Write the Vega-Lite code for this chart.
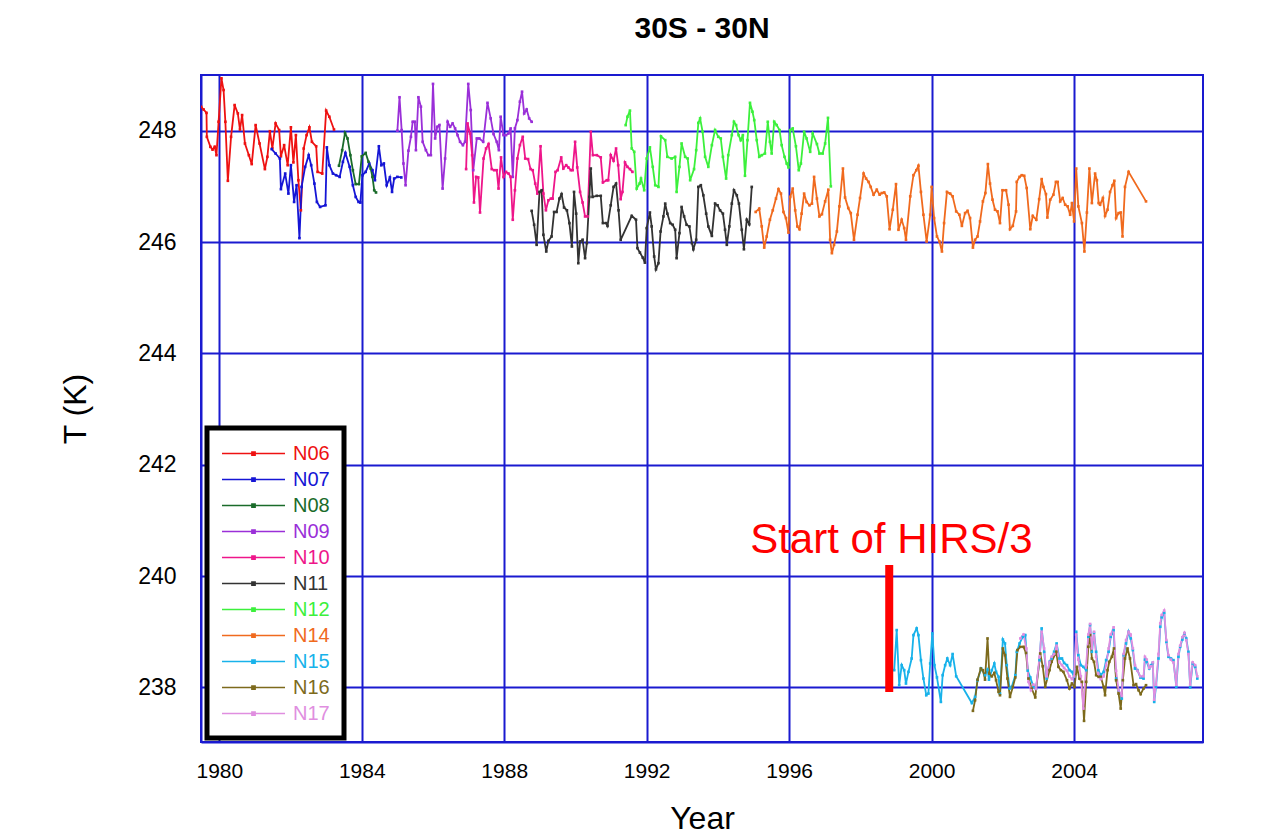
{
  "$schema": "https://vega.github.io/schema/vega-lite/v6.json",
  "width": 1002,
  "height": 667,
  "autosize": {"type": "none"},
  "padding": {"left": 201, "top": 75, "right": 71, "bottom": 94},
  "background": "#ffffff",
  "config": {
    "font": "Liberation Sans",
    "view": {"stroke": "#1a1ad0", "strokeWidth": 2},
    "axis": {"grid": true, "gridColor": "#1a1ad0", "gridWidth": 2, "gridOpacity": 1, "domainColor": "#1a1ad0", "domainWidth": 2, "ticks": false, "labelColor": "#000000", "titleColor": "#000000", "titleFontWeight": "normal", "labelFont": "Liberation Sans", "titleFont": "Liberation Sans"}
  },
  "title": {"text": "30S - 30N", "fontSize": 30, "fontWeight": "bold", "font": "Liberation Sans", "color": "#000000", "offset": 31, "anchor": "middle"},
  "datasets": {
    "ann": [{"t": 1998.81, "y1": 237.92, "y2": 240.2, "tt": 1998.87, "ty": 240.41, "label": "Start of HIRS/3"}]
  },
  "data": {"values": [
    {"s":"N06","t":1979.49,"v":248.43},{"s":"N06","t":1979.56,"v":248.38},{"s":"N06","t":1979.64,"v":248.32},{"s":"N06","t":1979.65,"v":247.89},{"s":"N06","t":1979.75,"v":247.71},{"s":"N06","t":1979.81,"v":247.66},{"s":"N06","t":1979.87,"v":247.71},{"s":"N06","t":1979.92,"v":247.56},{"s":"N06","t":1979.98,"v":248.16},{"s":"N06","t":1980.06,"v":248.94},{"s":"N06","t":1980.12,"v":248.73},{"s":"N06","t":1980.17,"v":248.16},{"s":"N06","t":1980.24,"v":247.10},{"s":"N06","t":1980.33,"v":247.89},{"s":"N06","t":1980.43,"v":248.46},{"s":"N06","t":1980.52,"v":248.31},{"s":"N06","t":1980.58,"v":248.02},{"s":"N06","t":1980.64,"v":248.28},{"s":"N06","t":1980.72,"v":247.77},{"s":"N06","t":1980.83,"v":247.56},{"s":"N06","t":1980.91,"v":247.40},{"s":"N06","t":1981.02,"v":248.10},{"s":"N06","t":1981.13,"v":247.77},{"s":"N06","t":1981.28,"v":247.31},{"s":"N06","t":1981.35,"v":247.53},{"s":"N06","t":1981.42,"v":247.99},{"s":"N06","t":1981.49,"v":247.68},{"s":"N06","t":1981.58,"v":248.13},{"s":"N06","t":1981.68,"v":248.01},{"s":"N06","t":1981.73,"v":247.54},{"s":"N06","t":1981.82,"v":247.74},{"s":"N06","t":1981.92,"v":247.38},{"s":"N06","t":1982.01,"v":248.06},{"s":"N06","t":1982.08,"v":247.43},{"s":"N06","t":1982.15,"v":247.92},{"s":"N06","t":1982.22,"v":247.11},{"s":"N06","t":1982.29,"v":246.57},{"s":"N06","t":1982.37,"v":247.68},{"s":"N06","t":1982.45,"v":247.92},{"s":"N06","t":1982.53,"v":248.06},{"s":"N06","t":1982.60,"v":247.80},{"s":"N06","t":1982.72,"v":247.72},{"s":"N06","t":1982.76,"v":247.26},{"s":"N06","t":1982.89,"v":247.23},{"s":"N06","t":1983.00,"v":248.36},{"s":"N06","t":1983.09,"v":248.25},{"s":"N06","t":1983.22,"v":248.02},
    {"s":"N07","t":1981.47,"v":247.67},{"s":"N07","t":1981.58,"v":247.59},{"s":"N07","t":1981.70,"v":247.50},{"s":"N07","t":1981.73,"v":246.95},{"s":"N07","t":1981.85,"v":247.23},{"s":"N07","t":1981.94,"v":246.87},{"s":"N07","t":1982.01,"v":247.38},{"s":"N07","t":1982.10,"v":246.72},{"s":"N07","t":1982.17,"v":247.02},{"s":"N07","t":1982.25,"v":246.07},{"s":"N07","t":1982.31,"v":246.99},{"s":"N07","t":1982.41,"v":247.35},{"s":"N07","t":1982.51,"v":247.56},{"s":"N07","t":1982.58,"v":247.38},{"s":"N07","t":1982.67,"v":247.05},{"s":"N07","t":1982.74,"v":246.72},{"s":"N07","t":1982.83,"v":246.63},{"s":"N07","t":1982.98,"v":246.66},{"s":"N07","t":1983.02,"v":247.70},{"s":"N07","t":1983.09,"v":247.38},{"s":"N07","t":1983.19,"v":247.23},{"s":"N07","t":1983.28,"v":247.20},{"s":"N07","t":1983.38,"v":247.17},{"s":"N07","t":1983.47,"v":247.44},{"s":"N07","t":1983.54,"v":247.60},{"s":"N07","t":1983.66,"v":247.35},{"s":"N07","t":1983.75,"v":247.02},{"s":"N07","t":1983.83,"v":246.81},{"s":"N07","t":1983.91,"v":246.72},{"s":"N07","t":1983.96,"v":246.71},{"s":"N07","t":1984.02,"v":247.20},{"s":"N07","t":1984.11,"v":247.26},{"s":"N07","t":1984.21,"v":247.41},{"s":"N07","t":1984.30,"v":247.29},{"s":"N07","t":1984.37,"v":247.11},{"s":"N07","t":1984.48,"v":247.72},{"s":"N07","t":1984.55,"v":247.38},{"s":"N07","t":1984.62,"v":247.41},{"s":"N07","t":1984.70,"v":247.02},{"s":"N07","t":1984.79,"v":247.16},{"s":"N07","t":1984.85,"v":246.90},{"s":"N07","t":1984.91,"v":247.14},{"s":"N07","t":1985.00,"v":247.17},{"s":"N07","t":1985.11,"v":247.16},
    {"s":"N08","t":1983.36,"v":247.37},{"s":"N08","t":1983.45,"v":247.65},{"s":"N08","t":1983.53,"v":247.96},{"s":"N08","t":1983.60,"v":247.86},{"s":"N08","t":1983.68,"v":247.56},{"s":"N08","t":1983.75,"v":247.29},{"s":"N08","t":1983.83,"v":247.04},{"s":"N08","t":1983.92,"v":247.04},{"s":"N08","t":1984.00,"v":247.54},{"s":"N08","t":1984.11,"v":247.60},{"s":"N08","t":1984.19,"v":247.44},{"s":"N08","t":1984.25,"v":247.32},{"s":"N08","t":1984.30,"v":247.17},{"s":"N08","t":1984.35,"v":246.93},{"s":"N08","t":1984.40,"v":246.89},
    {"s":"N09","t":1985.00,"v":248.00},{"s":"N09","t":1985.06,"v":248.60},{"s":"N09","t":1985.12,"v":248.01},{"s":"N09","t":1985.17,"v":247.41},{"s":"N09","t":1985.23,"v":247.02},{"s":"N09","t":1985.31,"v":247.64},{"s":"N09","t":1985.38,"v":247.89},{"s":"N09","t":1985.43,"v":248.16},{"s":"N09","t":1985.49,"v":248.16},{"s":"N09","t":1985.52,"v":247.65},{"s":"N09","t":1985.59,"v":248.60},{"s":"N09","t":1985.66,"v":248.43},{"s":"N09","t":1985.71,"v":247.80},{"s":"N09","t":1985.80,"v":247.65},{"s":"N09","t":1985.87,"v":247.56},{"s":"N09","t":1985.94,"v":247.56},{"s":"N09","t":1986.00,"v":248.84},{"s":"N09","t":1986.06,"v":247.86},{"s":"N09","t":1986.12,"v":248.07},{"s":"N09","t":1986.18,"v":248.10},{"s":"N09","t":1986.27,"v":246.96},{"s":"N09","t":1986.34,"v":247.50},{"s":"N09","t":1986.41,"v":248.16},{"s":"N09","t":1986.48,"v":248.07},{"s":"N09","t":1986.55,"v":248.13},{"s":"N09","t":1986.62,"v":248.04},{"s":"N09","t":1986.69,"v":247.92},{"s":"N09","t":1986.76,"v":247.80},{"s":"N09","t":1986.84,"v":247.74},{"s":"N09","t":1986.90,"v":247.80},{"s":"N09","t":1986.99,"v":248.84},{"s":"N09","t":1987.06,"v":248.37},{"s":"N09","t":1987.13,"v":247.29},{"s":"N09","t":1987.23,"v":247.86},{"s":"N09","t":1987.30,"v":247.86},{"s":"N09","t":1987.41,"v":247.80},{"s":"N09","t":1987.53,"v":248.50},{"s":"N09","t":1987.62,"v":248.22},{"s":"N09","t":1987.70,"v":247.94},{"s":"N09","t":1987.79,"v":247.80},{"s":"N09","t":1987.85,"v":247.65},{"s":"N09","t":1987.90,"v":248.25},{"s":"N09","t":1987.98,"v":247.92},{"s":"N09","t":1988.05,"v":247.92},{"s":"N09","t":1988.12,"v":247.95},{"s":"N09","t":1988.18,"v":248.04},{"s":"N09","t":1988.24,"v":247.17},{"s":"N09","t":1988.30,"v":248.04},{"s":"N09","t":1988.37,"v":248.19},{"s":"N09","t":1988.44,"v":248.52},{"s":"N09","t":1988.50,"v":248.70},{"s":"N09","t":1988.56,"v":248.31},{"s":"N09","t":1988.63,"v":248.38},{"s":"N09","t":1988.70,"v":248.22},{"s":"N09","t":1988.77,"v":248.16},
    {"s":"N10","t":1986.93,"v":247.31},{"s":"N10","t":1986.97,"v":248.13},{"s":"N10","t":1987.04,"v":247.95},{"s":"N10","t":1987.10,"v":247.56},{"s":"N10","t":1987.15,"v":246.71},{"s":"N10","t":1987.21,"v":247.17},{"s":"N10","t":1987.27,"v":247.16},{"s":"N10","t":1987.32,"v":246.53},{"s":"N10","t":1987.42,"v":247.50},{"s":"N10","t":1987.49,"v":247.68},{"s":"N10","t":1987.56,"v":247.76},{"s":"N10","t":1987.65,"v":247.31},{"s":"N10","t":1987.72,"v":247.29},{"s":"N10","t":1987.79,"v":247.29},{"s":"N10","t":1987.84,"v":246.96},{"s":"N10","t":1987.91,"v":247.52},{"s":"N10","t":1987.98,"v":247.17},{"s":"N10","t":1988.05,"v":247.26},{"s":"N10","t":1988.12,"v":247.23},{"s":"N10","t":1988.18,"v":247.17},{"s":"N10","t":1988.24,"v":246.40},{"s":"N10","t":1988.30,"v":246.93},{"s":"N10","t":1988.37,"v":247.50},{"s":"N10","t":1988.44,"v":247.74},{"s":"N10","t":1988.52,"v":247.89},{"s":"N10","t":1988.59,"v":247.50},{"s":"N10","t":1988.67,"v":247.49},{"s":"N10","t":1988.74,"v":247.31},{"s":"N10","t":1988.80,"v":247.29},{"s":"N10","t":1988.87,"v":247.05},{"s":"N10","t":1988.93,"v":246.87},{"s":"N10","t":1989.02,"v":247.72},{"s":"N10","t":1989.10,"v":246.87},{"s":"N10","t":1989.17,"v":246.57},{"s":"N10","t":1989.24,"v":246.75},{"s":"N10","t":1989.31,"v":246.78},{"s":"N10","t":1989.36,"v":246.78},{"s":"N10","t":1989.44,"v":247.26},{"s":"N10","t":1989.50,"v":247.29},{"s":"N10","t":1989.60,"v":247.52},{"s":"N10","t":1989.66,"v":247.32},{"s":"N10","t":1989.74,"v":247.38},{"s":"N10","t":1989.80,"v":247.34},{"s":"N10","t":1989.87,"v":247.29},{"s":"N10","t":1989.92,"v":247.29},{"s":"N10","t":1989.99,"v":247.80},{"s":"N10","t":1990.05,"v":247.34},{"s":"N10","t":1990.13,"v":246.90},{"s":"N10","t":1990.20,"v":246.71},{"s":"N10","t":1990.27,"v":246.46},{"s":"N10","t":1990.34,"v":246.46},{"s":"N10","t":1990.43,"v":247.98},{"s":"N10","t":1990.49,"v":247.56},{"s":"N10","t":1990.60,"v":247.56},{"s":"N10","t":1990.71,"v":247.52},{"s":"N10","t":1990.77,"v":247.07},{"s":"N10","t":1990.88,"v":247.11},{"s":"N10","t":1990.92,"v":247.11},{"s":"N10","t":1990.99,"v":247.56},{"s":"N10","t":1991.07,"v":247.46},{"s":"N10","t":1991.14,"v":247.68},{"s":"N10","t":1991.20,"v":247.38},{"s":"N10","t":1991.27,"v":246.77},{"s":"N10","t":1991.32,"v":246.90},{"s":"N10","t":1991.39,"v":247.43},{"s":"N10","t":1991.46,"v":247.35},{"s":"N10","t":1991.53,"v":247.31},{"s":"N10","t":1991.60,"v":247.26},
    {"s":"N11","t":1988.77,"v":246.56},{"s":"N11","t":1988.84,"v":246.31},{"s":"N11","t":1988.91,"v":245.95},{"s":"N11","t":1988.99,"v":246.90},{"s":"N11","t":1989.05,"v":246.93},{"s":"N11","t":1989.10,"v":246.13},{"s":"N11","t":1989.18,"v":245.83},{"s":"N11","t":1989.24,"v":246.02},{"s":"N11","t":1989.33,"v":246.10},{"s":"N11","t":1989.40,"v":246.54},{"s":"N11","t":1989.47,"v":246.54},{"s":"N11","t":1989.55,"v":246.78},{"s":"N11","t":1989.61,"v":246.86},{"s":"N11","t":1989.68,"v":246.62},{"s":"N11","t":1989.76,"v":246.57},{"s":"N11","t":1989.83,"v":246.34},{"s":"N11","t":1989.90,"v":245.92},{"s":"N11","t":1989.96,"v":246.90},{"s":"N11","t":1990.02,"v":246.51},{"s":"N11","t":1990.08,"v":245.62},{"s":"N11","t":1990.13,"v":246.01},{"s":"N11","t":1990.20,"v":246.04},{"s":"N11","t":1990.27,"v":245.71},{"s":"N11","t":1990.32,"v":245.98},{"s":"N11","t":1990.39,"v":246.81},{"s":"N11","t":1990.43,"v":247.32},{"s":"N11","t":1990.48,"v":246.81},{"s":"N11","t":1990.60,"v":246.83},{"s":"N11","t":1990.71,"v":246.83},{"s":"N11","t":1990.77,"v":246.34},{"s":"N11","t":1990.86,"v":246.34},{"s":"N11","t":1990.90,"v":246.29},{"s":"N11","t":1990.99,"v":246.66},{"s":"N11","t":1991.07,"v":246.99},{"s":"N11","t":1991.14,"v":247.05},{"s":"N11","t":1991.21,"v":246.57},{"s":"N11","t":1991.27,"v":246.04},{"s":"N11","t":1991.58,"v":246.47},{"s":"N11","t":1991.70,"v":246.40},{"s":"N11","t":1991.74,"v":245.89},{"s":"N11","t":1991.81,"v":245.81},{"s":"N11","t":1991.89,"v":245.72},{"s":"N11","t":1991.95,"v":245.63},{"s":"N11","t":1992.00,"v":246.25},{"s":"N11","t":1992.09,"v":246.53},{"s":"N11","t":1992.14,"v":246.28},{"s":"N11","t":1992.21,"v":245.74},{"s":"N11","t":1992.26,"v":245.51},{"s":"N11","t":1992.33,"v":245.62},{"s":"N11","t":1992.39,"v":246.19},{"s":"N11","t":1992.47,"v":246.46},{"s":"N11","t":1992.52,"v":246.69},{"s":"N11","t":1992.58,"v":246.51},{"s":"N11","t":1992.66,"v":246.34},{"s":"N11","t":1992.73,"v":246.31},{"s":"N11","t":1992.80,"v":246.22},{"s":"N11","t":1992.84,"v":245.71},{"s":"N11","t":1992.92,"v":246.16},{"s":"N11","t":1992.98,"v":246.63},{"s":"N11","t":1993.05,"v":246.46},{"s":"N11","t":1993.12,"v":246.31},{"s":"N11","t":1993.20,"v":246.28},{"s":"N11","t":1993.27,"v":245.98},{"s":"N11","t":1993.31,"v":245.87},{"s":"N11","t":1993.39,"v":246.04},{"s":"N11","t":1993.45,"v":246.99},{"s":"N11","t":1993.52,"v":247.02},{"s":"N11","t":1993.59,"v":246.84},{"s":"N11","t":1993.67,"v":246.51},{"s":"N11","t":1993.73,"v":246.28},{"s":"N11","t":1993.83,"v":246.11},{"s":"N11","t":1993.92,"v":246.69},{"s":"N11","t":1993.99,"v":246.66},{"s":"N11","t":1994.06,"v":246.57},{"s":"N11","t":1994.14,"v":246.51},{"s":"N11","t":1994.20,"v":246.22},{"s":"N11","t":1994.25,"v":245.95},{"s":"N11","t":1994.32,"v":246.28},{"s":"N11","t":1994.39,"v":246.69},{"s":"N11","t":1994.45,"v":246.93},{"s":"N11","t":1994.53,"v":246.84},{"s":"N11","t":1994.59,"v":246.69},{"s":"N11","t":1994.67,"v":246.22},{"s":"N11","t":1994.73,"v":245.87},{"s":"N11","t":1994.81,"v":246.40},{"s":"N11","t":1994.88,"v":246.32},{"s":"N11","t":1994.95,"v":246.99},
    {"s":"N12","t":1991.41,"v":248.10},{"s":"N12","t":1991.46,"v":248.25},{"s":"N12","t":1991.53,"v":248.36},{"s":"N12","t":1991.58,"v":247.68},{"s":"N12","t":1991.65,"v":247.62},{"s":"N12","t":1991.72,"v":246.96},{"s":"N12","t":1991.80,"v":247.05},{"s":"N12","t":1991.84,"v":247.14},{"s":"N12","t":1991.93,"v":246.93},{"s":"N12","t":1992.00,"v":247.50},{"s":"N12","t":1992.09,"v":247.70},{"s":"N12","t":1992.17,"v":247.35},{"s":"N12","t":1992.24,"v":247.02},{"s":"N12","t":1992.33,"v":246.99},{"s":"N12","t":1992.40,"v":247.90},{"s":"N12","t":1992.52,"v":247.83},{"s":"N12","t":1992.58,"v":247.53},{"s":"N12","t":1992.70,"v":247.50},{"s":"N12","t":1992.80,"v":247.53},{"s":"N12","t":1992.84,"v":246.90},{"s":"N12","t":1992.92,"v":247.35},{"s":"N12","t":1992.98,"v":247.77},{"s":"N12","t":1993.08,"v":247.53},{"s":"N12","t":1993.15,"v":247.50},{"s":"N12","t":1993.22,"v":247.11},{"s":"N12","t":1993.33,"v":247.31},{"s":"N12","t":1993.39,"v":247.65},{"s":"N12","t":1993.45,"v":248.14},{"s":"N12","t":1993.50,"v":248.22},{"s":"N12","t":1993.57,"v":247.98},{"s":"N12","t":1993.64,"v":247.53},{"s":"N12","t":1993.73,"v":247.35},{"s":"N12","t":1993.83,"v":247.74},{"s":"N12","t":1993.92,"v":248.01},{"s":"N12","t":1994.01,"v":247.89},{"s":"N12","t":1994.08,"v":247.86},{"s":"N12","t":1994.14,"v":247.53},{"s":"N12","t":1994.23,"v":247.14},{"s":"N12","t":1994.29,"v":247.56},{"s":"N12","t":1994.39,"v":247.92},{"s":"N12","t":1994.45,"v":248.16},{"s":"N12","t":1994.51,"v":248.10},{"s":"N12","t":1994.58,"v":247.92},{"s":"N12","t":1994.64,"v":247.83},{"s":"N12","t":1994.70,"v":247.92},{"s":"N12","t":1994.76,"v":247.19},{"s":"N12","t":1994.83,"v":247.83},{"s":"N12","t":1994.90,"v":248.50},{"s":"N12","t":1994.97,"v":248.34},{"s":"N12","t":1995.02,"v":248.19},{"s":"N12","t":1995.09,"v":247.83},{"s":"N12","t":1995.16,"v":247.53},{"s":"N12","t":1995.23,"v":247.56},{"s":"N12","t":1995.32,"v":247.59},{"s":"N12","t":1995.40,"v":248.16},{"s":"N12","t":1995.46,"v":247.80},{"s":"N12","t":1995.51,"v":247.59},{"s":"N12","t":1995.58,"v":248.16},{"s":"N12","t":1995.65,"v":248.10},{"s":"N12","t":1995.73,"v":248.01},{"s":"N12","t":1995.79,"v":247.74},{"s":"N12","t":1995.87,"v":247.53},{"s":"N12","t":1995.93,"v":247.41},{"s":"N12","t":1995.98,"v":247.34},{"s":"N12","t":1996.03,"v":248.01},{"s":"N12","t":1996.10,"v":248.04},{"s":"N12","t":1996.19,"v":247.72},{"s":"N12","t":1996.27,"v":247.29},{"s":"N12","t":1996.33,"v":247.41},{"s":"N12","t":1996.42,"v":247.98},{"s":"N12","t":1996.49,"v":247.86},{"s":"N12","t":1996.59,"v":247.62},{"s":"N12","t":1996.66,"v":247.95},{"s":"N12","t":1996.78,"v":247.76},{"s":"N12","t":1996.85,"v":247.59},{"s":"N12","t":1996.94,"v":247.59},{"s":"N12","t":1997.01,"v":247.77},{"s":"N12","t":1997.09,"v":248.23},{"s":"N12","t":1997.17,"v":247.00},
    {"s":"N14","t":1995.06,"v":246.54},{"s":"N14","t":1995.16,"v":246.60},{"s":"N14","t":1995.23,"v":246.28},{"s":"N14","t":1995.30,"v":245.90},{"s":"N14","t":1995.37,"v":246.10},{"s":"N14","t":1995.46,"v":246.40},{"s":"N14","t":1995.54,"v":246.57},{"s":"N14","t":1995.63,"v":246.78},{"s":"N14","t":1995.70,"v":246.95},{"s":"N14","t":1995.77,"v":246.87},{"s":"N14","t":1995.84,"v":246.54},{"s":"N14","t":1995.91,"v":246.43},{"s":"N14","t":1995.98,"v":246.17},{"s":"N14","t":1996.03,"v":246.81},{"s":"N14","t":1996.10,"v":246.96},{"s":"N14","t":1996.17,"v":246.57},{"s":"N14","t":1996.23,"v":246.28},{"s":"N14","t":1996.29,"v":246.23},{"s":"N14","t":1996.35,"v":246.51},{"s":"N14","t":1996.42,"v":246.87},{"s":"N14","t":1996.49,"v":246.72},{"s":"N14","t":1996.57,"v":246.66},{"s":"N14","t":1996.64,"v":246.69},{"s":"N14","t":1996.70,"v":247.17},{"s":"N14","t":1996.78,"v":246.78},{"s":"N14","t":1996.85,"v":246.46},{"s":"N14","t":1996.92,"v":246.50},{"s":"N14","t":1997.01,"v":246.73},{"s":"N14","t":1997.10,"v":246.94},{"s":"N14","t":1997.15,"v":246.04},{"s":"N14","t":1997.20,"v":245.80},{"s":"N14","t":1997.26,"v":245.95},{"s":"N14","t":1997.34,"v":246.19},{"s":"N14","t":1997.41,"v":246.64},{"s":"N14","t":1997.51,"v":247.32},{"s":"N14","t":1997.57,"v":246.80},{"s":"N14","t":1997.66,"v":246.61},{"s":"N14","t":1997.73,"v":246.52},{"s":"N14","t":1997.82,"v":246.04},{"s":"N14","t":1997.92,"v":246.49},{"s":"N14","t":1997.99,"v":246.79},{"s":"N14","t":1998.09,"v":247.23},{"s":"N14","t":1998.16,"v":247.14},{"s":"N14","t":1998.23,"v":247.08},{"s":"N14","t":1998.29,"v":246.99},{"s":"N14","t":1998.37,"v":246.85},{"s":"N14","t":1998.46,"v":246.94},{"s":"N14","t":1998.54,"v":246.85},{"s":"N14","t":1998.60,"v":246.88},{"s":"N14","t":1998.67,"v":246.89},{"s":"N14","t":1998.74,"v":246.82},{"s":"N14","t":1998.82,"v":246.23},{"s":"N14","t":1998.91,"v":246.58},{"s":"N14","t":1999.00,"v":247.04},{"s":"N14","t":1999.07,"v":246.22},{"s":"N14","t":1999.16,"v":246.40},{"s":"N14","t":1999.23,"v":246.25},{"s":"N14","t":1999.28,"v":246.04},{"s":"N14","t":1999.40,"v":246.82},{"s":"N14","t":1999.49,"v":247.20},{"s":"N14","t":1999.57,"v":247.29},{"s":"N14","t":1999.63,"v":247.37},{"s":"N14","t":1999.70,"v":246.90},{"s":"N14","t":1999.77,"v":246.49},{"s":"N14","t":1999.86,"v":246.01},{"s":"N14","t":1999.96,"v":246.49},{"s":"N14","t":2000.00,"v":246.99},{"s":"N14","t":2000.07,"v":246.43},{"s":"N14","t":2000.15,"v":246.10},{"s":"N14","t":2000.22,"v":246.01},{"s":"N14","t":2000.29,"v":245.83},{"s":"N14","t":2000.35,"v":246.34},{"s":"N14","t":2000.43,"v":246.90},{"s":"N14","t":2000.52,"v":246.87},{"s":"N14","t":2000.59,"v":246.82},{"s":"N14","t":2000.69,"v":246.55},{"s":"N14","t":2000.78,"v":246.49},{"s":"N14","t":2000.85,"v":246.29},{"s":"N14","t":2000.94,"v":246.52},{"s":"N14","t":2001.01,"v":246.56},{"s":"N14","t":2001.08,"v":246.43},{"s":"N14","t":2001.16,"v":245.90},{"s":"N14","t":2001.22,"v":246.04},{"s":"N14","t":2001.29,"v":246.10},{"s":"N14","t":2001.36,"v":246.37},{"s":"N14","t":2001.44,"v":246.73},{"s":"N14","t":2001.51,"v":246.88},{"s":"N14","t":2001.58,"v":247.40},{"s":"N14","t":2001.64,"v":247.05},{"s":"N14","t":2001.71,"v":246.76},{"s":"N14","t":2001.78,"v":246.58},{"s":"N14","t":2001.85,"v":246.55},{"s":"N14","t":2001.92,"v":246.34},{"s":"N14","t":2001.99,"v":246.93},{"s":"N14","t":2002.09,"v":246.93},{"s":"N14","t":2002.16,"v":246.67},{"s":"N14","t":2002.20,"v":246.23},{"s":"N14","t":2002.28,"v":246.29},{"s":"N14","t":2002.37,"v":246.55},{"s":"N14","t":2002.39,"v":247.08},{"s":"N14","t":2002.47,"v":247.17},{"s":"N14","t":2002.53,"v":247.20},{"s":"N14","t":2002.60,"v":247.19},{"s":"N14","t":2002.67,"v":246.97},{"s":"N14","t":2002.77,"v":246.23},{"s":"N14","t":2002.84,"v":246.47},{"s":"N14","t":2002.94,"v":246.40},{"s":"N14","t":2003.02,"v":246.77},{"s":"N14","t":2003.09,"v":247.13},{"s":"N14","t":2003.14,"v":246.99},{"s":"N14","t":2003.21,"v":246.86},{"s":"N14","t":2003.25,"v":246.44},{"s":"N14","t":2003.33,"v":246.76},{"s":"N14","t":2003.42,"v":246.85},{"s":"N14","t":2003.49,"v":247.08},{"s":"N14","t":2003.54,"v":247.08},{"s":"N14","t":2003.61,"v":246.73},{"s":"N14","t":2003.68,"v":246.79},{"s":"N14","t":2003.75,"v":246.67},{"s":"N14","t":2003.82,"v":246.64},{"s":"N14","t":2003.89,"v":246.49},{"s":"N14","t":2003.94,"v":246.70},{"s":"N14","t":2004.00,"v":246.37},{"s":"N14","t":2004.06,"v":247.32},{"s":"N14","t":2004.12,"v":246.64},{"s":"N14","t":2004.22,"v":246.34},{"s":"N14","t":2004.29,"v":245.83},{"s":"N14","t":2004.36,"v":246.53},{"s":"N14","t":2004.43,"v":247.32},{"s":"N14","t":2004.50,"v":246.70},{"s":"N14","t":2004.59,"v":247.23},{"s":"N14","t":2004.64,"v":247.11},{"s":"N14","t":2004.69,"v":246.70},{"s":"N14","t":2004.73,"v":246.67},{"s":"N14","t":2004.81,"v":246.79},{"s":"N14","t":2004.87,"v":246.47},{"s":"N14","t":2004.94,"v":246.58},{"s":"N14","t":2005.01,"v":246.90},{"s":"N14","t":2005.08,"v":247.02},{"s":"N14","t":2005.13,"v":247.10},{"s":"N14","t":2005.18,"v":246.43},{"s":"N14","t":2005.25,"v":246.52},{"s":"N14","t":2005.31,"v":246.53},{"s":"N14","t":2005.36,"v":246.10},{"s":"N14","t":2005.43,"v":246.99},{"s":"N14","t":2005.53,"v":247.26},{"s":"N14","t":2006.02,"v":246.73},
    {"s":"N15","t":1998.95,"v":238.31},{"s":"N15","t":1999.02,"v":239.03},{"s":"N15","t":1999.09,"v":238.04},{"s":"N15","t":1999.16,"v":238.40},{"s":"N15","t":1999.23,"v":238.31},{"s":"N15","t":1999.28,"v":238.07},{"s":"N15","t":1999.35,"v":238.28},{"s":"N15","t":1999.44,"v":238.52},{"s":"N15","t":1999.49,"v":238.94},{"s":"N15","t":1999.58,"v":239.06},{"s":"N15","t":1999.63,"v":238.94},{"s":"N15","t":1999.70,"v":238.49},{"s":"N15","t":1999.77,"v":238.16},{"s":"N15","t":1999.85,"v":237.86},{"s":"N15","t":1999.91,"v":237.89},{"s":"N15","t":1999.96,"v":238.43},{"s":"N15","t":2000.02,"v":238.97},{"s":"N15","t":2000.08,"v":238.40},{"s":"N15","t":2000.15,"v":238.18},{"s":"N15","t":2000.26,"v":237.74},{"s":"N15","t":2000.31,"v":238.22},{"s":"N15","t":2000.38,"v":238.40},{"s":"N15","t":2000.44,"v":238.52},{"s":"N15","t":2000.52,"v":238.40},{"s":"N15","t":2000.59,"v":238.60},{"s":"N15","t":2000.69,"v":238.20},{"s":"N15","t":2001.13,"v":237.72},{"s":"N15","t":2001.22,"v":237.83},{"s":"N15","t":2001.29,"v":238.13},{"s":"N15","t":2001.39,"v":238.34},{"s":"N15","t":2001.50,"v":238.22},{"s":"N15","t":2001.57,"v":238.32},{"s":"N15","t":2001.61,"v":238.14},{"s":"N15","t":2001.69,"v":238.31},{"s":"N15","t":2001.76,"v":238.43},{"s":"N15","t":2001.81,"v":238.28},{"s":"N15","t":2001.88,"v":238.19},{"s":"N15","t":2001.92,"v":237.89},{"s":"N15","t":2002.00,"v":238.86},{"s":"N15","t":2002.06,"v":238.79},{"s":"N15","t":2002.11,"v":238.40},{"s":"N15","t":2002.19,"v":237.98},{"s":"N15","t":2002.25,"v":238.01},{"s":"N15","t":2002.35,"v":238.22},{"s":"N15","t":2002.39,"v":238.64},{"s":"N15","t":2002.47,"v":238.79},{"s":"N15","t":2002.56,"v":238.91},{"s":"N15","t":2002.63,"v":238.94},{"s":"N15","t":2002.70,"v":238.30},{"s":"N15","t":2002.77,"v":238.18},{"s":"N15","t":2002.86,"v":238.01},{"s":"N15","t":2002.93,"v":237.98},{"s":"N15","t":2003.03,"v":238.49},{"s":"N15","t":2003.09,"v":239.06},{"s":"N15","t":2003.16,"v":238.64},{"s":"N15","t":2003.23,"v":238.16},{"s":"N15","t":2003.31,"v":238.46},{"s":"N15","t":2003.37,"v":238.52},{"s":"N15","t":2003.44,"v":238.64},{"s":"N15","t":2003.51,"v":238.79},{"s":"N15","t":2003.59,"v":238.52},{"s":"N15","t":2003.66,"v":238.52},{"s":"N15","t":2003.72,"v":238.44},{"s":"N15","t":2003.80,"v":238.40},{"s":"N15","t":2003.87,"v":238.31},{"s":"N15","t":2003.94,"v":238.28},{"s":"N15","t":2004.00,"v":238.19},{"s":"N15","t":2004.06,"v":239.00},{"s":"N15","t":2004.12,"v":238.58},{"s":"N15","t":2004.19,"v":238.40},{"s":"N15","t":2004.26,"v":238.37},{"s":"N15","t":2004.34,"v":238.31},{"s":"N15","t":2004.40,"v":238.91},{"s":"N15","t":2004.45,"v":239.12},{"s":"N15","t":2004.50,"v":238.64},{"s":"N15","t":2004.56,"v":238.98},{"s":"N15","t":2004.62,"v":238.64},{"s":"N15","t":2004.68,"v":238.31},{"s":"N15","t":2004.75,"v":238.22},{"s":"N15","t":2004.83,"v":238.28},{"s":"N15","t":2004.90,"v":238.49},{"s":"N15","t":2004.97,"v":238.64},{"s":"N15","t":2005.03,"v":238.91},{"s":"N15","t":2005.11,"v":239.03},{"s":"N15","t":2005.18,"v":238.16},{"s":"N15","t":2005.25,"v":237.95},{"s":"N15","t":2005.34,"v":237.80},{"s":"N15","t":2005.39,"v":238.58},{"s":"N15","t":2005.46,"v":238.79},{"s":"N15","t":2005.53,"v":239.00},{"s":"N15","t":2005.59,"v":238.88},{"s":"N15","t":2005.65,"v":238.67},{"s":"N15","t":2005.71,"v":238.34},{"s":"N15","t":2005.78,"v":238.31},{"s":"N15","t":2005.86,"v":238.18},{"s":"N15","t":2005.95,"v":238.16},{"s":"N15","t":2005.99,"v":238.50},{"s":"N15","t":2006.04,"v":238.46},{"s":"N15","t":2006.11,"v":238.34},{"s":"N15","t":2006.16,"v":238.40},{"s":"N15","t":2006.21,"v":238.44},{"s":"N15","t":2006.25,"v":237.74},{"s":"N15","t":2006.30,"v":238.01},{"s":"N15","t":2006.37,"v":238.52},{"s":"N15","t":2006.42,"v":239.09},{"s":"N15","t":2006.46,"v":239.26},{"s":"N15","t":2006.53,"v":239.34},{"s":"N15","t":2006.59,"v":238.82},{"s":"N15","t":2006.65,"v":238.55},{"s":"N15","t":2006.72,"v":238.52},{"s":"N15","t":2006.79,"v":238.49},{"s":"N15","t":2006.87,"v":238.01},{"s":"N15","t":2006.93,"v":238.55},{"s":"N15","t":2006.98,"v":238.73},{"s":"N15","t":2007.04,"v":238.86},{"s":"N15","t":2007.10,"v":238.97},{"s":"N15","t":2007.15,"v":238.88},{"s":"N15","t":2007.21,"v":238.64},{"s":"N15","t":2007.26,"v":238.00},{"s":"N15","t":2007.33,"v":238.43},{"s":"N15","t":2007.40,"v":238.37},{"s":"N15","t":2007.46,"v":238.16},
    {"s":"N16","t":2001.16,"v":237.58},{"s":"N16","t":2001.22,"v":237.77},{"s":"N16","t":2001.29,"v":238.14},{"s":"N16","t":2001.38,"v":238.34},{"s":"N16","t":2001.44,"v":238.31},{"s":"N16","t":2001.50,"v":238.14},{"s":"N16","t":2001.57,"v":238.88},{"s":"N16","t":2001.62,"v":238.25},{"s":"N16","t":2001.69,"v":238.20},{"s":"N16","t":2001.76,"v":238.26},{"s":"N16","t":2001.81,"v":238.13},{"s":"N16","t":2001.88,"v":237.92},{"s":"N16","t":2001.92,"v":237.86},{"s":"N16","t":2002.00,"v":238.70},{"s":"N16","t":2002.06,"v":238.58},{"s":"N16","t":2002.13,"v":238.16},{"s":"N16","t":2002.20,"v":237.83},{"s":"N16","t":2002.28,"v":238.01},{"s":"N16","t":2002.35,"v":238.18},{"s":"N16","t":2002.41,"v":238.67},{"s":"N16","t":2002.49,"v":238.73},{"s":"N16","t":2002.58,"v":238.73},{"s":"N16","t":2002.65,"v":238.62},{"s":"N16","t":2002.72,"v":238.16},{"s":"N16","t":2002.81,"v":237.98},{"s":"N16","t":2002.91,"v":237.82},{"s":"N16","t":2003.05,"v":238.61},{"s":"N16","t":2003.12,"v":238.38},{"s":"N16","t":2003.19,"v":238.01},{"s":"N16","t":2003.31,"v":238.31},{"s":"N16","t":2003.37,"v":238.46},{"s":"N16","t":2003.50,"v":238.64},{"s":"N16","t":2003.56,"v":238.37},{"s":"N16","t":2003.63,"v":238.31},{"s":"N16","t":2003.70,"v":238.28},{"s":"N16","t":2003.80,"v":238.13},{"s":"N16","t":2003.87,"v":237.98},{"s":"N16","t":2003.94,"v":238.07},{"s":"N16","t":2004.01,"v":238.01},{"s":"N16","t":2004.08,"v":238.37},{"s":"N16","t":2004.15,"v":238.16},{"s":"N16","t":2004.22,"v":238.10},{"s":"N16","t":2004.28,"v":237.40},{"s":"N16","t":2004.34,"v":238.10},{"s":"N16","t":2004.40,"v":238.73},{"s":"N16","t":2004.45,"v":238.94},{"s":"N16","t":2004.50,"v":238.52},{"s":"N16","t":2004.56,"v":238.46},{"s":"N16","t":2004.62,"v":238.22},{"s":"N16","t":2004.69,"v":238.19},{"s":"N16","t":2004.75,"v":238.19},{"s":"N16","t":2004.83,"v":238.01},{"s":"N16","t":2004.87,"v":237.86},{"s":"N16","t":2004.94,"v":238.31},{"s":"N16","t":2004.99,"v":238.46},{"s":"N16","t":2005.06,"v":238.55},{"s":"N16","t":2005.12,"v":238.70},{"s":"N16","t":2005.18,"v":238.13},{"s":"N16","t":2005.25,"v":237.89},{"s":"N16","t":2005.31,"v":237.62},{"s":"N16","t":2005.37,"v":238.13},{"s":"N16","t":2005.43,"v":238.52},{"s":"N16","t":2005.50,"v":238.70},{"s":"N16","t":2005.57,"v":238.52},{"s":"N16","t":2005.67,"v":238.04},{"s":"N16","t":2005.74,"v":238.06},{"s":"N16","t":2005.81,"v":237.95},{"s":"N16","t":2005.87,"v":237.88},{"s":"N16","t":2005.95,"v":237.98},{"s":"N16","t":2006.02,"v":238.04},
    {"s":"N17","t":2002.49,"v":238.88},{"s":"N17","t":2002.58,"v":238.95},{"s":"N17","t":2002.66,"v":238.70},{"s":"N17","t":2002.72,"v":238.10},{"s":"N17","t":2002.79,"v":237.95},{"s":"N17","t":2002.86,"v":238.05},{"s":"N17","t":2002.93,"v":237.98},{"s":"N17","t":2003.03,"v":238.55},{"s":"N17","t":2003.09,"v":239.00},{"s":"N17","t":2003.16,"v":238.70},{"s":"N17","t":2003.23,"v":238.20},{"s":"N17","t":2003.31,"v":238.45},{"s":"N17","t":2003.37,"v":238.55},{"s":"N17","t":2003.44,"v":238.60},{"s":"N17","t":2003.51,"v":238.75},{"s":"N17","t":2003.59,"v":238.45},{"s":"N17","t":2003.66,"v":238.40},{"s":"N17","t":2003.72,"v":238.35},{"s":"N17","t":2003.80,"v":238.30},{"s":"N17","t":2003.87,"v":238.20},{"s":"N17","t":2003.94,"v":238.15},{"s":"N17","t":2004.00,"v":238.20},{"s":"N17","t":2004.06,"v":238.95},{"s":"N17","t":2004.12,"v":238.50},{"s":"N17","t":2004.19,"v":238.20},{"s":"N17","t":2004.26,"v":237.62},{"s":"N17","t":2004.34,"v":238.40},{"s":"N17","t":2004.40,"v":238.95},{"s":"N17","t":2004.45,"v":239.14},{"s":"N17","t":2004.50,"v":238.70},{"s":"N17","t":2004.56,"v":239.00},{"s":"N17","t":2004.62,"v":238.55},{"s":"N17","t":2004.68,"v":238.25},{"s":"N17","t":2004.75,"v":238.15},{"s":"N17","t":2004.83,"v":238.20},{"s":"N17","t":2004.90,"v":238.40},{"s":"N17","t":2004.97,"v":238.70},{"s":"N17","t":2005.03,"v":238.95},{"s":"N17","t":2005.11,"v":239.08},{"s":"N17","t":2005.18,"v":238.30},{"s":"N17","t":2005.25,"v":237.95},{"s":"N17","t":2005.34,"v":237.85},{"s":"N17","t":2005.39,"v":238.60},{"s":"N17","t":2005.46,"v":238.85},{"s":"N17","t":2005.53,"v":239.00},{"s":"N17","t":2005.59,"v":238.95},{"s":"N17","t":2005.65,"v":238.70},{"s":"N17","t":2005.71,"v":238.40},{"s":"N17","t":2005.78,"v":238.30},{"s":"N17","t":2005.86,"v":238.20},{"s":"N17","t":2005.95,"v":238.20},{"s":"N17","t":2005.99,"v":238.55},{"s":"N17","t":2006.04,"v":238.50},{"s":"N17","t":2006.11,"v":238.35},{"s":"N17","t":2006.16,"v":238.38},{"s":"N17","t":2006.21,"v":238.45},{"s":"N17","t":2006.25,"v":237.78},{"s":"N17","t":2006.30,"v":238.05},{"s":"N17","t":2006.37,"v":238.60},{"s":"N17","t":2006.42,"v":239.15},{"s":"N17","t":2006.46,"v":239.30},{"s":"N17","t":2006.53,"v":239.38},{"s":"N17","t":2006.59,"v":238.85},{"s":"N17","t":2006.65,"v":238.58},{"s":"N17","t":2006.72,"v":238.50},{"s":"N17","t":2006.79,"v":238.45},{"s":"N17","t":2006.87,"v":238.05},{"s":"N17","t":2006.93,"v":238.60},{"s":"N17","t":2006.98,"v":238.75},{"s":"N17","t":2007.04,"v":238.90},{"s":"N17","t":2007.10,"v":238.98},{"s":"N17","t":2007.15,"v":238.85},{"s":"N17","t":2007.21,"v":238.60},{"s":"N17","t":2007.26,"v":238.05},{"s":"N17","t":2007.33,"v":238.45},{"s":"N17","t":2007.40,"v":238.40},{"s":"N17","t":2007.46,"v":238.20}
  ]},
  "layer": [
    {
      "mark": {"type": "line", "strokeWidth": 1.8, "clip": true, "point": {"size": 7, "shape": "square", "filled": true}},
      "encoding": {
        "x": {"field": "t", "type": "quantitative", "scale": {"domain": [1979.486, 2007.62], "nice": false, "zero": false},
              "axis": {"values": [1980, 1984, 1988, 1992, 1996, 2000, 2004], "format": "d", "labelFontSize": 21, "labelPadding": 18, "title": "Year", "titleFontSize": 32, "titlePadding": 22}},
        "y": {"field": "v", "type": "quantitative", "scale": {"domain": [237.02, 249.0], "nice": false, "zero": false},
              "axis": {"values": [238, 240, 242, 244, 246, 248], "format": "d", "labelFontSize": 23, "labelPadding": 25, "title": "T (K)", "titleFontSize": 32, "titlePadding": 45}},
        "color": {"field": "s", "type": "nominal",
          "scale": {"domain": ["N06","N07","N08","N09","N10","N11","N12","N14","N15","N16","N17"],
                    "range": ["#ee1111","#1515d5","#1a6b2a","#9a2fd8","#ee168a","#333333","#3cf03c","#f06a1e","#18b2ea","#7d6a1c","#e08ee0"]},
          "legend": {"title": null, "orient": "none", "legendX": 6, "legendY": 353,
                     "symbolType": "M-1,0L5,0M1.85,-0.15L2.15,-0.15L2.15,0.15L1.85,0.15Z", "symbolSize": 441, "symbolStrokeWidth": 1.6,
                     "labelFontSize": 20, "labelFont": "Liberation Sans", "labelOffset": 49, "rowPadding": 4, "padding": 14,
                     "fillColor": "#ffffff", "strokeColor": "#000000",
                     "labelColor": {"expr": "scale('color', datum.value)"},
                     "encode": {"legend": {"update": {"strokeWidth": {"value": 5}}}}}}
      }
    },
    {
      "data": {"name": "ann"},
      "mark": {"type": "rule", "color": "#ff0000", "strokeWidth": 8},
      "encoding": {"x": {"field": "t", "type": "quantitative"}, "y": {"field": "y1", "type": "quantitative"}, "y2": {"field": "y2"}}
    },
    {
      "data": {"name": "ann"},
      "mark": {"type": "text", "color": "#ff0000", "fontSize": 42, "font": "Liberation Sans", "align": "center", "baseline": "alphabetic"},
      "encoding": {"x": {"field": "tt", "type": "quantitative"}, "y": {"field": "ty", "type": "quantitative"}, "text": {"field": "label"}}
    }
  ]
}
